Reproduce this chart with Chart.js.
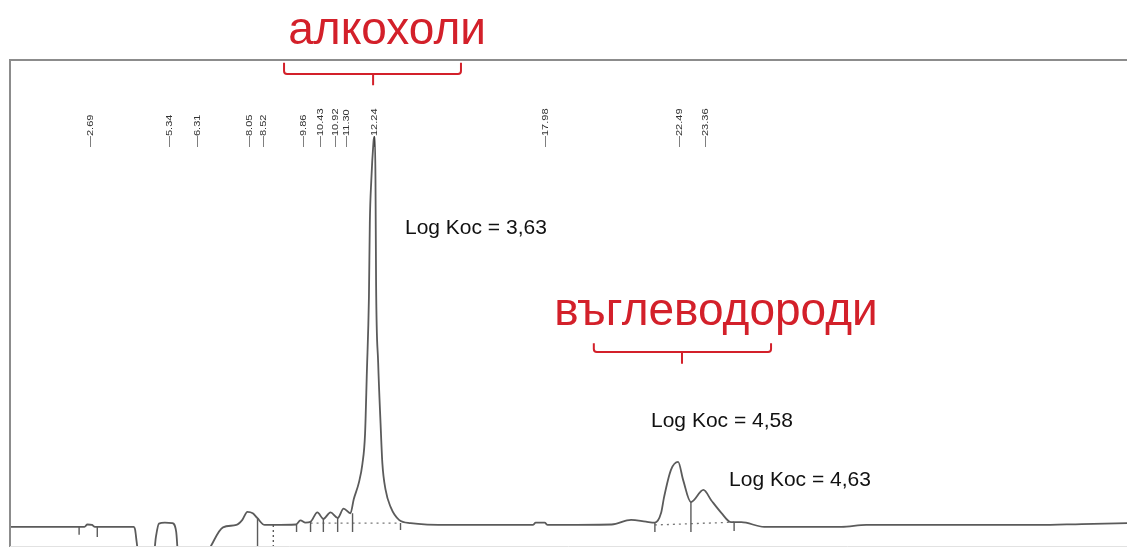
<!DOCTYPE html>
<html>
<head>
<meta charset="utf-8">
<script src="https://cdn.jsdelivr.net/npm/chart.js@4"></script>
<style>
  html, body { margin: 0; padding: 0; background: #fff; }
  #wrap { width: 1127px; height: 547px; position: relative; }
</style>
</head>
<body>
<div id="wrap"><canvas id="chrom"></canvas></div>
<script>
// retention time (min) and detector signal of the trace
const traceTime = [
    0, 1.5, 2.5, 2.6, 2.75, 2.85, 4.15, 4.2, 4.25, 4.32, 4.82, 4.9, 5.0, 5.2, 5.45, 5.58, 5.65,
    6.55, 6.7, 7.15, 7.6, 7.8, 7.97, 8.15, 8.3, 8.55, 8.84, 9.6, 9.75, 9.92, 10.09, 10.32,
    10.52, 10.76, 11.0, 11.2, 11.43, 11.54, 11.71, 11.83, 11.92, 11.98, 12.05, 12.08, 12.13,
    12.20, 12.22, 12.25, 12.27, 12.29, 12.36, 12.44, 12.50, 12.61, 12.78, 13.06, 13.45, 14.8,
    17.55, 17.65, 17.95, 18.05, 20.2, 20.85, 21.35, 21.65, 21.86, 21.96, 22.19, 22.43, 22.60,
    22.86, 23.28, 23.54, 23.88, 24.21, 24.55, 25.32, 27.91, 28.75, 34.53, 35.98, 37.56
];
const traceSignal = [
    0.1, 0.1, 0.1, 0.6, 0.5, 0.1, 0.1, -0.5, -3, -6, -6, -2, 0.8, 1.0, 0.9, -1, -6,
    -6, -4.5, 0, 0.5, 1.6, 3.3, 3.0, 2.0, 0.5, 0.5, 0.6, 1.5, 1.0, 1.2, 3.2,
    1.8, 3.2, 2.0, 4.0, 3.0, 6.0, 9.5, 13.5, 20.0, 33.0, 49.3, 65.1, 74.3,
    82.2, 83.5, 83.5, 74.3, 52.3, 35.2, 22.3, 13.8, 8.0, 4.3, 1.6, 0.9, 0.5,
    0.5, 1.0, 1.0, 0.5, 0.6, 1.6, 1.2, 1.0, 3.1, 6.5, 12.3, 14.0, 10.1,
    5.4, 8.0, 5.8, 3.1, 1.1, 1.1, 0.1, 0.1, 0.5, 0.5, 0.7, 0.9
];

// integration marks: time, top, bottom, dotted?
const markTime   = [2.32, 2.93, 8.31, 8.84, 9.62, 10.09, 10.52, 11.0, 11.5, 13.11, 21.65, 22.86, 24.31];
const markTop    = [0.1, 0.1, 2.0, 0.5, 0.6, 1.2, 1.8, 2.0, 3.0, 0.9, 1.0, 5.4, 1.1];
const markBottom = [-1.6, -2.1, -5, -5, -1.0, -1.0, -1.0, -1.0, -1.0, -0.6, -1.0, -1.0, -0.8];
const markDotted = [false, false, false, true, false, false, false, false, false, false, false, false, false];

// dotted baselines [start time, start signal, end time, end signal]
const baseStartT = [10.09, 21.65];
const baseStartV = [0.9, 0.5];
const baseEndT   = [13.11, 24.31];
const baseEndV   = [0.9, 1.1];

// peak labels printed above the trace
const peakLabels = ['2.69', '5.34', '6.31', '8.05', '8.52', '9.86', '10.43', '10.92', '11.30', '12.24', '17.98', '22.49', '23.36'];

const groupNames = ['алкохоли', 'въглеводороди'];
const logKocTexts = ['Log Koc = 3,63', 'Log Koc = 4,58', 'Log Koc = 4,63'];

const datasets = [{
    data: traceTime.map(function(t, i) { return { x: t, y: traceSignal[i] }; }),
    borderColor: '#5b5b5b',
    borderWidth: 1.8,
    pointRadius: 0,
    cubicInterpolationMode: 'monotone',
    fill: false
}];

markTime.forEach(function(t, i) {
    datasets.push({
        data: [{ x: t, y: markTop[i] }, { x: t, y: markBottom[i] }],
        borderColor: '#5b5b5b',
        borderWidth: 1.4,
        borderDash: markDotted[i] ? [2, 3] : [],
        pointRadius: 0,
        tension: 0
    });
});

baseStartT.forEach(function(t, i) {
    datasets.push({
        data: [{ x: t, y: baseStartV[i] }, { x: baseEndT[i], y: baseEndV[i] }],
        borderColor: '#777',
        borderWidth: 1.3,
        borderDash: [2, 4],
        pointRadius: 0,
        tension: 0
    });
});

// frame, peak labels, brackets and notes
const decorPlugin = {
    id: 'decor',
    afterDatasetsDraw: function(chart) {
        const ctx = chart.ctx;
        const xs = chart.scales.x;
        const ys = chart.scales.y;
        const a = chart.chartArea;
        const px = function(t) { return xs.getPixelForValue(t); };
        const py = function(v) { return ys.getPixelForValue(v); };

        ctx.save();
        // frame
        ctx.strokeStyle = '#8c8c8c';
        ctx.lineWidth = 2;
        ctx.beginPath();
        ctx.moveTo(a.left, a.bottom + 1);
        ctx.lineTo(a.left, a.top);
        ctx.lineTo(a.right, a.top);
        ctx.stroke();
        ctx.strokeStyle = '#e2e2e2';
        ctx.lineWidth = 1;
        ctx.beginPath();
        ctx.moveTo(a.left, a.bottom + 0.5);
        ctx.lineTo(a.right, a.bottom + 0.5);
        ctx.stroke();

        // rotated retention time labels
        ctx.fillStyle = '#333';
        ctx.font = '10px "Liberation Sans", Arial, sans-serif';
        ctx.textAlign = 'left';
        ctx.textBaseline = 'middle';
        peakLabels.forEach(function(lbl) {
            ctx.save();
            ctx.translate(px(parseFloat(lbl)), 147);
            ctx.rotate(-Math.PI / 2);
            ctx.scale(1.1, 0.9);
            ctx.fillText('—' + lbl, 0, 0);
            ctx.restore();
        });

        // red group names and brackets
        ctx.fillStyle = '#d3202a';
        ctx.strokeStyle = '#d3202a';
        ctx.lineWidth = 2;
        ctx.font = '46px "Liberation Sans", Arial, sans-serif';
        ctx.textAlign = 'center';
        ctx.textBaseline = 'middle';
        ctx.fillText(groupNames[0], px(12.66), py(106.2));
        ctx.fillText(groupNames[1], px(23.70), py(46.1));

        const bracket = function(t0, t1, tm, vTop, vMid, vTip) {
            const x0 = px(t0), x1 = px(t1), xm = px(tm);
            const yT = py(vTop), yM = py(vMid), yTip = py(vTip);
            ctx.beginPath();
            ctx.moveTo(x0, yT);
            ctx.arcTo(x0, yM, x0 + 4, yM, 3);
            ctx.lineTo(x1 - 4, yM);
            ctx.arcTo(x1, yM, x1, yT, 3);
            ctx.lineTo(x1, yT);
            ctx.moveTo(xm, yM);
            ctx.lineTo(xm, yTip);
            ctx.stroke();
        };
        bracket(9.20, 15.14, 12.19, 99.4, 97.0, 94.6);
        bracket(19.60, 25.55, 22.56, 39.4, 37.5, 35.0);

        // Log Koc notes
        ctx.fillStyle = '#111';
        ctx.font = '21px "Liberation Sans", Arial, sans-serif';
        ctx.textAlign = 'left';
        ctx.fillText(logKocTexts[0], px(13.26), py(64.0));
        ctx.fillText(logKocTexts[1], px(21.52), py(22.7));
        ctx.fillText(logKocTexts[2], px(24.14), py(10.1));
        ctx.restore();
    }
};

new Chart(document.getElementById('chrom'), {
    type: 'line',
    data: { datasets: datasets },
    options: {
        responsive: true,
        maintainAspectRatio: false,
        animation: false,
        layout: { padding: { left: 10, top: 60, right: 0, bottom: 1 } },
        plugins: {
            legend: { display: false },
            tooltip: { enabled: false }
        },
        scales: {
            x: { type: 'linear', min: 0, max: 37.5, display: false },
            y: { type: 'linear', min: -4, max: 100, display: false }
        }
    },
    plugins: [decorPlugin]
});
</script>
</body>
</html>
